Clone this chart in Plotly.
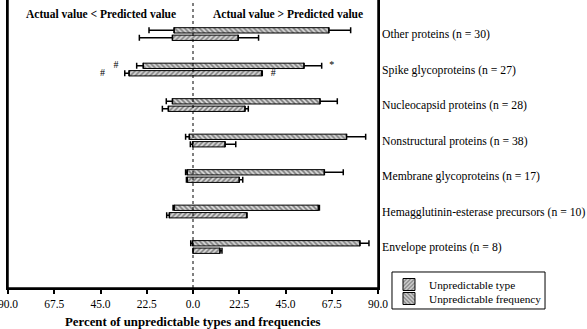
import plotly.graph_objects as go

# Categories, top to bottom
categories = [
    "Other proteins (n = 30)",
    "Spike glycoproteins (n = 27)",
    "Nucleocapsid proteins (n = 28)",
    "Nonstructural proteins (n = 38)",
    "Membrane glycoproteins (n = 17)",
    "Hemagglutinin-esterase precursors (n = 10)",
    "Envelope proteins (n = 8)",
]

# Unpredictable frequency: floating bar start/end and whisker low/high (%)
freq_start = [-9.2, -24.2, -10.0, -1.8, -2.8, -9.2, -0.2]
freq_end = [66.1, 54.0, 61.8, 74.7, 63.9, 61.0, 81.2]
freq_low = [-21.4, -27.4, -13.0, -3.6, -3.6, -9.7, -1.1]
freq_high = [76.7, 62.6, 70.2, 84.0, 73.1, 61.5, 85.6]

# Unpredictable type
type_start = [-10.0, -31.1, -12.0, -0.2, -2.8, -11.5, 0.0]
type_end = [22.0, 33.4, 25.3, 15.6, 22.5, 26.1, 13.1]
type_low = [-26.1, -33.2, -14.9, -1.3, -3.2, -12.8, 0.0]
type_high = [31.9, 33.7, 26.9, 20.8, 24.2, 26.3, 14.1]

# significance marks (text, x value, category index, series)
mark_text = ["*", "#", "#", "#"]
mark_x = [67.5, -37.5, -44.0, 39.0]
mark_cat = [1, 1, 1, 1]
mark_series = ["freq", "freq", "type", "type"]

tick_vals = [-90, -67.5, -45, -22.5, 0, 22.5, 45, 67.5, 90]
tick_text = ["%.1f" % abs(v) for v in tick_vals]

n = len(categories)
pos = [n - 1 - i for i in range(n)]
off = 0.105
y_freq = [p + off for p in pos]
y_type = [p - off for p in pos]

FONT = "Times New Roman, Liberation Serif, DejaVu Serif, serif"

fig = go.Figure()

def left_whisker(ys, start, low):
    return go.Scatter(
        x=start, y=ys, mode="markers",
        marker=dict(size=1, color="rgba(0,0,0,0)"),
        error_x=dict(type="data", symmetric=False,
                     array=[0] * len(start),
                     arrayminus=[s - l for s, l in zip(start, low)],
                     color="black", thickness=1.5, width=3),
        showlegend=False, hoverinfo="skip",
    )

def bar(name, ys, start, end, high, shape, legend):
    return go.Bar(
        name=name, orientation="h",
        y=ys, base=start,
        x=[e - s for e, s in zip(end, start)],
        width=0.15,
        marker=dict(color="white", line=dict(color="black", width=1),
                    pattern=dict(shape=shape, fgcolor="#222", bgcolor="#d8d8d8",
                                 size=3.5, solidity=0.45)),
        error_x=dict(type="data", symmetric=False,
                     array=[h - e for h, e in zip(high, end)],
                     arrayminus=[0] * len(end),
                     color="black", thickness=1.5, width=3),
        legend=legend,
    )

fig.add_trace(bar("Unpredictable type", y_type, type_start, type_end, type_high, "/", "legend"))
fig.add_trace(bar("Unpredictable frequency", y_freq, freq_start, freq_end, freq_high, "\\", "legend2"))
fig.add_trace(left_whisker(y_freq, freq_start, freq_low))
fig.add_trace(left_whisker(y_type, type_start, type_low))

mark_y = [pos[c] + (off if s == "freq" else -off) for c, s in zip(mark_cat, mark_series)]
fig.add_trace(go.Scatter(
    x=mark_x, y=mark_y, mode="text", text=mark_text,
    textfont=dict(family=FONT, size=10, color="black"),
    showlegend=False, hoverinfo="skip",
))

# dotted zero line and plot frame (left, right, bottom)
fig.add_shape(type="line", xref="x", yref="paper", x0=0, x1=0, y0=0, y1=1,
              line=dict(color="black", width=1, dash="dot"))
for fx in (0, 1):
    fig.add_shape(type="line", xref="paper", yref="paper", x0=fx, x1=fx, y0=0, y1=1,
                  line=dict(color="black", width=1.5))
fig.add_shape(type="line", xref="paper", yref="paper", x0=0, x1=1, y0=0, y1=0,
              line=dict(color="black", width=1.5))
# legend frame
fig.add_shape(type="rect", xref="paper", yref="paper",
              x0=1.0378, x1=1.4514, y0=-0.0729, y1=0.0556,
              line=dict(color="black", width=1), fillcolor="rgba(0,0,0,0)")

fig.add_annotation(text="<b>Actual value &lt; Predicted value</b>", xref="x", yref="paper",
                   x=-45, y=0.953, yanchor="middle", showarrow=False,
                   font=dict(family=FONT, size=11.5, color="black"))
fig.add_annotation(text="<b>Actual value &gt; Predicted value</b>", xref="x", yref="paper",
                   x=46, y=0.953, yanchor="middle", showarrow=False,
                   font=dict(family=FONT, size=11.5, color="black"))
fig.add_annotation(text="<b>Percent of unpredictable types and frequencies</b>",
                   xref="x", yref="paper", x=0, y=-0.118, yanchor="middle",
                   showarrow=False, font=dict(family=FONT, size=12.8, color="black"))

leg = dict(xanchor="left", yanchor="top", borderwidth=0,
           bgcolor="rgba(0,0,0,0)", font=dict(family=FONT, size=11.3),
           itemwidth=30)

fig.update_layout(
    width=587, height=329,
    margin=dict(l=8, r=209, t=0, b=41, autoexpand=False),
    paper_bgcolor="white", plot_bgcolor="white",
    barmode="overlay",
    font=dict(family=FONT, size=12, color="black"),
    showlegend=True,
    legend=dict(x=1.0297, y=0.0625, **leg),
    legend2=dict(x=1.0297, y=0.0139, **leg),
    xaxis=dict(range=[-90, 90], tickvals=tick_vals, ticktext=tick_text,
               showline=True, linecolor="black", linewidth=1.5,
               ticks="outside", ticklen=4, tickcolor="black", tickwidth=1.5,
               showgrid=False, zeroline=False, automargin=False,
               ticklabeloverflow="allow",
               tickfont=dict(family=FONT, size=11.5)),
    yaxis=dict(range=[-1.155, 6.96], side="right", tickvals=pos, ticktext=categories,
               showline=True, mirror=True, linecolor="black", linewidth=1.5,
               ticks="", showgrid=False, zeroline=False, automargin=False,
               ticklabeloverflow="allow",
               tickfont=dict(family=FONT, size=11.7)),
)

fig.write_html("out.html", config={"displayModeBar": False},
               post_script="document.body.style.margin='0';")
